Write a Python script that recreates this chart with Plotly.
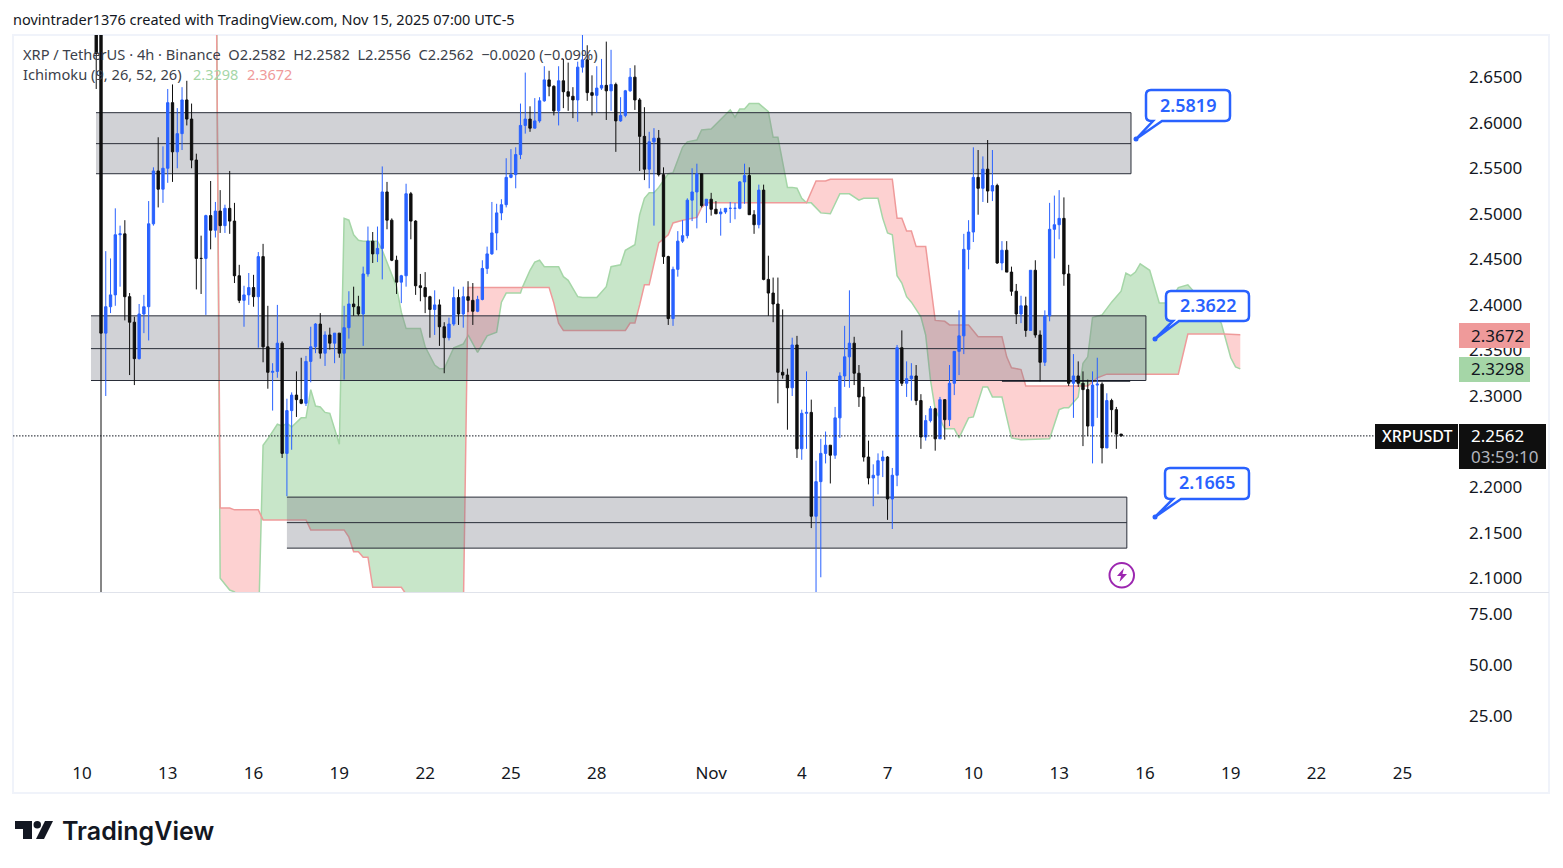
import plotly.graph_objects as go

W, H = 1563, 868
FONT = "Noto Sans"
BLUE = "#2962ff"
BLACK = "#0f0f0f"
BAND_LINE = "#2a2e39"

# 4h candles, bar -1 and bar 0 are the Oct 10 crash candles
closes = [
    2.676,
    2.369, 2.398, 2.411, 2.477, 2.478, 2.409, 2.381, 2.341, 2.390, 2.398,
    2.489, 2.547, 2.527, 2.550, 2.622, 2.568, 2.588, 2.625, 2.604, 2.559,
    2.451, 2.451, 2.498, 2.482, 2.503, 2.487, 2.506, 2.492, 2.432, 2.405,
    2.411, 2.419, 2.409, 2.453, 2.354, 2.326, 2.327, 2.358, 2.237, 2.284,
    2.301, 2.296, 2.292, 2.338, 2.354, 2.379, 2.347, 2.367, 2.358, 2.369,
    2.347, 2.375, 2.401, 2.398, 2.390, 2.434, 2.470, 2.456, 2.462, 2.524,
    2.493, 2.449, 2.425, 2.432, 2.522, 2.492, 2.421, 2.419, 2.409, 2.395,
    2.400, 2.376, 2.364, 2.379, 2.408, 2.390, 2.409, 2.405, 2.393, 2.406,
    2.440, 2.456, 2.479, 2.501, 2.510, 2.540, 2.543, 2.565, 2.597, 2.604,
    2.594, 2.602, 2.624, 2.647, 2.640, 2.613, 2.646, 2.634, 2.629, 2.625,
    2.661, 2.669, 2.633, 2.630, 2.638, 2.641, 2.635, 2.642, 2.602, 2.608,
    2.635, 2.650, 2.625, 2.585, 2.549, 2.579, 2.583, 2.543, 2.453, 2.385,
    2.439, 2.470, 2.476, 2.515, 2.524, 2.544, 2.509, 2.516, 2.505, 2.500,
    2.502, 2.506, 2.506, 2.506, 2.535, 2.542, 2.499, 2.488, 2.526, 2.428,
    2.413, 2.401, 2.326, 2.323, 2.309, 2.356, 2.242, 2.281, 2.282, 2.168,
    2.206, 2.237, 2.246, 2.235, 2.276, 2.322, 2.343, 2.358, 2.325, 2.299,
    2.233, 2.210, 2.213, 2.229, 2.233, 2.187, 2.213, 2.353, 2.314, 2.319,
    2.322, 2.295, 2.255, 2.273, 2.286, 2.253, 2.296, 2.274, 2.314, 2.349,
    2.366, 2.461, 2.480, 2.540, 2.528, 2.549, 2.525, 2.531, 2.446, 2.460,
    2.436, 2.415, 2.390, 2.399, 2.372, 2.438, 2.367, 2.337, 2.388, 2.483,
    2.488, 2.495, 2.434, 2.314, 2.322, 2.314, 2.307, 2.267, 2.312, 2.313,
    2.243, 2.295, 2.285, 2.2582, 2.2562,
]
highs = [
    2.780,
    2.850, 2.459, 2.451, 2.506, 2.487, 2.493, 2.413, 2.387, 2.401, 2.411,
    2.514, 2.551, 2.584, 2.574, 2.637, 2.642, 2.616, 2.639, 2.646, 2.621,
    2.566, 2.476, 2.499, 2.536, 2.513, 2.526, 2.510, 2.547, 2.512, 2.444,
    2.421, 2.435, 2.433, 2.458, 2.467, 2.399, 2.336, 2.400, 2.360, 2.297,
    2.304, 2.327, 2.342, 2.344, 2.376, 2.380, 2.391, 2.371, 2.375, 2.369,
    2.369, 2.399, 2.415, 2.420, 2.410, 2.442, 2.486, 2.480, 2.486, 2.552,
    2.535, 2.495, 2.454, 2.433, 2.533, 2.524, 2.493, 2.434, 2.436, 2.410,
    2.416, 2.406, 2.381, 2.386, 2.420, 2.417, 2.420, 2.426, 2.424, 2.410,
    2.449, 2.464, 2.513, 2.511, 2.516, 2.561, 2.571, 2.573, 2.621, 2.655,
    2.618, 2.627, 2.628, 2.662, 2.657, 2.641, 2.662, 2.670, 2.666, 2.639,
    2.667, 2.697, 2.685, 2.652, 2.662, 2.670, 2.689, 2.680, 2.644, 2.628,
    2.636, 2.660, 2.663, 2.627, 2.617, 2.590, 2.594, 2.592, 2.551, 2.454,
    2.442, 2.481, 2.493, 2.517, 2.550, 2.555, 2.544, 2.516, 2.523, 2.514,
    2.506, 2.506, 2.513, 2.512, 2.536, 2.555, 2.551, 2.504, 2.532, 2.532,
    2.454, 2.430, 2.430, 2.395, 2.330, 2.364, 2.366, 2.285, 2.327, 2.296,
    2.229, 2.253, 2.261, 2.246, 2.288, 2.326, 2.377, 2.416, 2.365, 2.334,
    2.310, 2.251, 2.225, 2.237, 2.240, 2.234, 2.221, 2.356, 2.372, 2.338,
    2.336, 2.334, 2.302, 2.279, 2.289, 2.287, 2.299, 2.296, 2.334, 2.349,
    2.394, 2.478, 2.493, 2.573, 2.570, 2.563, 2.581, 2.570, 2.533, 2.470,
    2.470, 2.442, 2.423, 2.410, 2.409, 2.438, 2.449, 2.372, 2.394, 2.512,
    2.520, 2.526, 2.518, 2.444, 2.346, 2.338, 2.327, 2.318, 2.327, 2.342,
    2.315, 2.303, 2.297, 2.288, 2.2582,
]
lows = [
    2.637,
    1.650, 2.300, 2.391, 2.399, 2.420, 2.383, 2.323, 2.312, 2.340, 2.369,
    2.361, 2.487, 2.507, 2.512, 2.534, 2.535, 2.550, 2.570, 2.597, 2.550,
    2.417, 2.412, 2.389, 2.461, 2.474, 2.479, 2.479, 2.478, 2.424, 2.402,
    2.376, 2.400, 2.398, 2.353, 2.337, 2.308, 2.284, 2.320, 2.232, 2.190,
    2.241, 2.277, 2.291, 2.289, 2.315, 2.347, 2.341, 2.333, 2.351, 2.336,
    2.342, 2.318, 2.363, 2.388, 2.388, 2.355, 2.431, 2.446, 2.447, 2.428,
    2.483, 2.448, 2.412, 2.402, 2.420, 2.472, 2.411, 2.404, 2.391, 2.364,
    2.367, 2.355, 2.325, 2.361, 2.377, 2.378, 2.375, 2.392, 2.378, 2.392,
    2.405, 2.434, 2.455, 2.460, 2.493, 2.507, 2.539, 2.528, 2.560, 2.588,
    2.590, 2.594, 2.600, 2.623, 2.629, 2.608, 2.597, 2.616, 2.613, 2.605,
    2.601, 2.655, 2.624, 2.608, 2.611, 2.636, 2.603, 2.613, 2.568, 2.601,
    2.606, 2.634, 2.614, 2.547, 2.537, 2.528, 2.487, 2.541, 2.445, 2.378,
    2.377, 2.431, 2.468, 2.473, 2.492, 2.484, 2.507, 2.490, 2.498, 2.500,
    2.476, 2.500, 2.490, 2.494, 2.505, 2.511, 2.499, 2.478, 2.484, 2.427,
    2.388, 2.381, 2.292, 2.319, 2.263, 2.300, 2.232, 2.230, 2.242, 2.155,
    2.080, 2.101, 2.226, 2.204, 2.231, 2.254, 2.310, 2.309, 2.312, 2.288,
    2.228, 2.203, 2.179, 2.192, 2.211, 2.164, 2.154, 2.201, 2.311, 2.299,
    2.295, 2.290, 2.242, 2.251, 2.271, 2.240, 2.253, 2.252, 2.267, 2.301,
    2.323, 2.346, 2.439, 2.469, 2.499, 2.513, 2.512, 2.514, 2.445, 2.438,
    2.436, 2.410, 2.379, 2.380, 2.365, 2.372, 2.364, 2.316, 2.333, 2.382,
    2.451, 2.472, 2.421, 2.311, 2.276, 2.310, 2.245, 2.256, 2.226, 2.276,
    2.226, 2.243, 2.260, 2.242, 2.2556,
]
first_opens = [2.770, 2.800]

# Ichimoku leading spans, read at the corners of each line
span_a_bars = [
    24, 25, 27, 28, 29, 33, 33.62, 34, 35, 37,
    38, 39, 40, 42, 43, 44, 45, 46, 47, 48,
    50, 51, 52, 53, 54, 55, 58, 59, 62, 63,
    64, 67, 68, 70, 71, 72, 74, 76, 76.84, 77,
    79, 81, 83, 84, 85, 88, 88.38, 89, 90, 91,
    92, 93, 96, 97, 98, 100, 101, 104, 106, 107,
    109, 110, 112, 113, 114, 115, 116, 117, 119, 120,
    122, 123, 125, 126, 128, 132, 133, 134, 135, 136,
    138, 140, 141, 142, 144, 145, 146, 147, 148, 149,
    151, 153, 155, 157, 159, 160, 163, 164, 165, 166,
    167, 168, 169, 170, 172, 173, 174, 175, 177, 179,
    180, 182, 183, 185, 186, 187, 189, 191, 193, 199,
    201, 202, 203, 205, 205.32, 206, 207, 208, 210, 212,
    214, 215, 216, 217, 218, 220, 222, 224, 226, 228,
    229, 235, 235.63, 237, 238, 239,
]
span_a = [
    2.950, 2.100, 2.087, 2.085, 2.078, 2.040, 2.168, 2.246, 2.253, 2.269,
    2.267, 2.270, 2.266, 2.276, 2.276, 2.307, 2.289, 2.288, 2.282, 2.281,
    2.247, 2.495, 2.493, 2.477, 2.471, 2.470, 2.470, 2.460, 2.420, 2.392,
    2.374, 2.374, 2.354, 2.334, 2.330, 2.330, 2.353, 2.357, 2.365, 2.367,
    2.348, 2.366, 2.370, 2.403, 2.413, 2.413, 2.419, 2.427, 2.438, 2.447,
    2.449, 2.442, 2.442, 2.431, 2.427, 2.409, 2.408, 2.408, 2.420, 2.442,
    2.444, 2.460, 2.466, 2.499, 2.517, 2.523, 2.523, 2.529, 2.544, 2.545,
    2.573, 2.579, 2.581, 2.592, 2.593, 2.614, 2.606, 2.615, 2.615, 2.621,
    2.621, 2.612, 2.584, 2.584, 2.529, 2.529, 2.528, 2.517, 2.512, 2.512,
    2.501, 2.500, 2.522, 2.522, 2.515, 2.517, 2.517, 2.495, 2.479, 2.477,
    2.432, 2.424, 2.409, 2.403, 2.387, 2.367, 2.318, 2.285, 2.264, 2.264,
    2.254, 2.276, 2.277, 2.310, 2.310, 2.299, 2.299, 2.254, 2.252, 2.253,
    2.285, 2.287, 2.287, 2.299, 2.311, 2.336, 2.343, 2.386, 2.389, 2.403,
    2.415, 2.435, 2.432, 2.436, 2.445, 2.438, 2.402, 2.402, 2.419, 2.422,
    2.416, 2.380, 2.368, 2.342, 2.332, 2.3298,
]
span_b_bars = [
    24, 25, 27, 28, 33, 33.62, 34, 43, 44, 51,
    52, 53, 54, 55, 56, 57, 63, 65, 76, 76.84, 77, 88.38,
    94, 95, 96, 97, 110, 111, 112, 113, 114, 115,
    117, 119, 120, 122, 125, 126, 127, 148, 150, 152,
    153, 166, 167, 168, 169, 170, 171, 173, 175, 177,
    178, 182, 184, 189, 190, 191, 193, 194, 205.32, 207,
    209, 211, 226, 228, 235.63, 239,
]
span_b = [
    2.890, 2.177, 2.177, 2.175, 2.175, 2.168, 2.164, 2.164, 2.153, 2.153,
    2.145, 2.129, 2.129, 2.123, 2.123, 2.090, 2.090, 2.075, 2.060, 2.360, 2.419, 2.419,
    2.419, 2.402, 2.380, 2.372, 2.372, 2.380, 2.380, 2.400, 2.422, 2.422,
    2.468, 2.477, 2.490, 2.493, 2.496, 2.507, 2.512, 2.512, 2.536, 2.536,
    2.538, 2.538, 2.495, 2.495, 2.481, 2.481, 2.464, 2.464, 2.383, 2.382,
    2.378, 2.378, 2.365, 2.365, 2.343, 2.331, 2.329, 2.311, 2.311, 2.311,
    2.320, 2.324, 2.324, 2.368, 2.368, 2.3672,
]
# bars where the two spans cross, and which one is on top in between
cloud_cross = [24, 33.62, 76.84, 88.38, 148, 205.32, 235.63, 239]
cloud_colors = ["#fdd1d1", "#c8e6c9", "#fdd1d1", "#c8e6c9", "#fdd1d1", "#c8e6c9", "#fdd1d1"]

# drawn zones: left bar, right bar, top, middle, bottom
zone_left = [-1.05, -2.1, 39.0]
zone_right = [216.07, 219.2, 215.2]
zone_top = [2.611, 2.388, 2.189]
zone_mid = [2.577, 2.352, 2.161]
zone_bottom = [2.544, 2.317, 2.133]

# 2.25 sits under the last price label in the reference, so it never shows
price_ticks = [2.10, 2.15, 2.20, 2.30, 2.35, 2.40, 2.45, 2.50, 2.55, 2.60, 2.65]
lower_ticks = [25, 50, 75]
date_tick_bars = [-4, 14, 32, 50, 68, 86, 104, 128, 147, 165, 183, 201, 219, 237, 255, 273]
date_tick_labels = ["10", "13", "16", "19", "22", "25", "28", "Nov", "4", "7", "10", "13", "16", "19", "22", "25"]

bars = list(range(-1, len(closes) - 1))
opens = first_opens + closes[1:-1]

PRICE_RANGE = [2.08485, 2.69627]
BAR_RANGE = [-18.46, 303.76]


def fx(x):
    return x / W


def fy(y):
    return 1 - y / H


def xy(x, y):
    return f"{fx(x):.5f},{fy(y):.5f}"


def callout_path(x0, y0, x1, y1, base0, base1, tip, r=5):
    return (
        f"M {xy(x0 + r, y0)} L {xy(x1 - r, y0)} Q {xy(x1, y0)} {xy(x1, y0 + r)} "
        f"L {xy(x1, y1 - r)} Q {xy(x1, y1)} {xy(x1 - r, y1)} "
        f"L {xy(base1, y1)} L {xy(tip[0], tip[1])} L {xy(base0, y1)} "
        f"L {xy(x0 + r, y1)} Q {xy(x0, y1)} {xy(x0, y1 - r)} "
        f"L {xy(x0, y0 + r)} Q {xy(x0, y0)} {xy(x0 + r, y0)} Z"
    )


def rect(x0, y0, x1, y1, color):
    return dict(type="rect", xref="paper", yref="paper", x0=fx(x0), x1=fx(x1), y0=fy(y0), y1=fy(y1),
                fillcolor=color, line_width=0, layer="above")


def label(x, y, text, size=14.5, color="#131722", anchor="left", weight=None, family=FONT):
    # annotation boxes carry about 2px of padding on the left
    if anchor == "left":
        x -= 2
    return dict(xref="paper", yref="paper", x=fx(x), y=fy(y), text=text, showarrow=False,
                xanchor=anchor, yanchor="middle",
                font=dict(family=family, size=size, color=color, weight=weight))


fig = go.Figure()

# cloud fill, one polygon per stretch between crossings
for i, color in enumerate(cloud_colors):
    lo, hi = cloud_cross[i], cloud_cross[i + 1]
    a_part = [(b, v) for b, v in zip(span_a_bars, span_a) if lo <= b <= hi]
    b_part = [(b, v) for b, v in zip(span_b_bars, span_b) if lo <= b <= hi][::-1]
    poly = a_part + b_part
    fig.add_trace(go.Scatter(x=[p[0] for p in poly], y=[p[1] for p in poly], mode="lines",
                             fill="toself", fillcolor=color, line=dict(width=0),
                             hoverinfo="skip", showlegend=False))

fig.add_trace(go.Scatter(x=span_a_bars, y=span_a, mode="lines", line=dict(color="#a5d6a7", width=1.5),
                         name="Leading Span A", showlegend=False))
fig.add_trace(go.Scatter(x=span_b_bars, y=span_b, mode="lines", line=dict(color="#ef9a9a", width=1.5),
                         name="Leading Span B", showlegend=False))

# grey zones sit over the cloud but under the candles
for left, right, top, mid, bottom in zip(zone_left, zone_right, zone_top, zone_mid, zone_bottom):
    fig.add_trace(go.Scatter(x=[left, right, right, left, left], y=[top, top, bottom, bottom, top],
                             mode="lines", fill="toself", fillcolor="rgba(120,123,134,0.34)",
                             line=dict(width=0), hoverinfo="skip", showlegend=False))
    fig.add_trace(go.Scatter(x=[left, right, right, left], y=[top, top, bottom, bottom], mode="lines",
                             line=dict(color=BAND_LINE, width=1), hoverinfo="skip", showlegend=False))
    fig.add_trace(go.Scatter(x=[left, right], y=[mid, mid], mode="lines",
                             line=dict(color=BAND_LINE, width=1), hoverinfo="skip", showlegend=False))

# support line drawn along the bottom of the middle zone
fig.add_trace(go.Scatter(x=[189, 215.9], y=[2.3165, 2.3165], mode="lines",
                         line=dict(color="#131722", width=1.5), hoverinfo="skip", showlegend=False))

fig.add_trace(go.Candlestick(
    x=bars, open=opens, high=highs, low=lows, close=closes,
    xaxis="x2", yaxis="y2", whiskerwidth=0,
    increasing=dict(line=dict(color=BLUE, width=1), fillcolor=BLUE),
    decreasing=dict(line=dict(color=BLACK, width=1), fillcolor=BLACK),
    showlegend=False,
))

# empty lower pane still needs a trace for its axis to be drawn
fig.add_trace(go.Scatter(x=[0], y=[50], yaxis="y3", mode="lines", hoverinfo="skip", showlegend=False))

shapes = [
    dict(type="rect", xref="paper", yref="paper", x0=fx(13), x1=fx(1549), y0=fy(35), y1=fy(793),
         line=dict(color="#f0f3fa", width=2), layer="below"),
    dict(type="line", xref="paper", yref="paper", x0=fx(13), x1=fx(1549), y0=fy(592.5), y1=fy(592.5),
         line=dict(color="#e0e3eb", width=1), layer="above"),
    dict(type="line", xref="paper", yref="y", x0=fx(13), x1=fx(1375), y0=closes[-1], y1=closes[-1],
         line=dict(color="#131722", width=1, dash="1.5px,1.5px"), layer="above"),
]

# price labels on the right, they cover the plain ticks
shapes += [
    rect(1459, 323, 1530, 348, "#ef9a9a"),
    rect(1459, 357, 1530, 382, "#a5d6a7"),
    rect(1459, 424, 1546, 469, "#0f0f0f"),
    rect(1375, 424, 1458, 449, "#0f0f0f"),
]

# value callouts
callouts = [
    ("2.5819", 1146, 90, 1230, 121, 1153, 1162, (1136, 139)),
    ("2.3622", 1166, 291, 1249, 321, 1173, 1179, (1155, 339)),
    ("2.1665", 1165, 468, 1249, 499, 1173, 1181, (1155, 517)),
]
annotations = []
for text, x0, y0, x1, y1, base0, base1, tip in callouts:
    shapes.append(dict(type="path", xref="paper", yref="paper", layer="above",
                       path=callout_path(x0, y0, x1, y1, base0, base1, tip),
                       fillcolor="white", line=dict(color=BLUE, width=2.5)))
    shapes.append(dict(type="circle", xref="paper", yref="paper", layer="above",
                       x0=fx(tip[0] - 2.5), x1=fx(tip[0] + 2.5), y0=fy(tip[1] - 2.5), y1=fy(tip[1] + 2.5),
                       fillcolor=BLUE, line=dict(color=BLUE, width=0)))
    annotations.append(label((x0 + x1) / 2, (y0 + y1) / 2 - 1, text, size=18, color=BLUE, anchor="center", weight=600))

# purple lightning badge
shapes.append(dict(type="circle", xref="paper", yref="paper", layer="above",
                   x0=fx(1109.5), x1=fx(1134), y0=fy(563), y1=fy(587.5),
                   fillcolor="white", line=dict(color="#9c27b0", width=2)))
bolt = [(1124, 568), (1117, 576), (1121, 576), (1119.5, 582), (1127, 574), (1122.5, 574)]
shapes.append(dict(type="path", xref="paper", yref="paper", layer="above",
                   path="M " + " L ".join(xy(px, py) for px, py in bolt) + " Z",
                   fillcolor="#9c27b0", line=dict(width=0)))

# TradingView mark
mark_t = [(15, 821), (32, 821), (32, 839), (23, 839), (23, 829), (15, 829)]
mark_slash = [(45, 821), (53, 821), (44, 839), (36, 839)]
for pts in (mark_t, mark_slash):
    shapes.append(dict(type="path", xref="paper", yref="paper", layer="above",
                       path="M " + " L ".join(xy(px, py) for px, py in pts) + " Z",
                       fillcolor="#131722", line=dict(width=0)))
shapes.append(dict(type="circle", xref="paper", yref="paper", layer="above",
                   x0=fx(33.5), x1=fx(41), y0=fy(821), y1=fy(828.5),
                   fillcolor="#131722", line=dict(width=0)))

annotations += [
    label(13, 19, "novintrader1376 created with TradingView.com, Nov 15, 2025 07:00 UTC-5"),
    label(23, 53.5, "XRP / TetherUS · 4h · Binance&nbsp;&nbsp;O2.2582&nbsp;&nbsp;H2.2582&nbsp;&nbsp;L2.2556&nbsp;&nbsp;"
                    "C2.2562&nbsp;&nbsp;−0.0020 (−0.09%)", size=14.65, color="#3c3f4a"),
    label(23, 74, "Ichimoku (9, 26, 52, 26)", size=14.65, color="#3c3f4a"),
    label(193, 74, "2.3298", color="#a5d6a7"),
    label(247, 74, "2.3672", color="#ef9a9a"),
    label(1471, 335, "2.3672", size=17),
    label(1471, 368.5, "2.3298", size=17),
    label(1471, 435.5, "2.2562", size=17, color="white"),
    label(1471, 456.5, "03:59:10", size=17, color="#b2b5be"),
    label(1416.5, 436, "XRPUSDT", size=16, color="white", anchor="center", weight=500),
    label(62, 831, "TradingView", size=25, weight=600, family="Inter"),
]

tick_font = dict(family=FONT, size=17, color="#131722")
top_pane = [fy(592), fy(35)]
fig.update_layout(
    width=W, height=H,
    margin=dict(l=0, r=0, t=0, b=0),
    paper_bgcolor="white", plot_bgcolor="white",
    showlegend=False,
    shapes=shapes, annotations=annotations,
    xaxis=dict(domain=[fx(13), fx(1549)], range=BAR_RANGE, anchor="free", position=fy(761),
               tickmode="array", tickvals=date_tick_bars, ticktext=date_tick_labels,
               showgrid=False, zeroline=False, showline=False, ticks="", tickfont=tick_font,
               rangeslider=dict(visible=False)),
    xaxis2=dict(overlaying="x", range=BAR_RANGE, anchor="y2", visible=False,
                rangeslider=dict(visible=False)),
    yaxis=dict(domain=top_pane, range=PRICE_RANGE, anchor="free", position=fx(1468), side="right",
               tickmode="array", tickvals=price_ticks, ticktext=[f"{v:.4f}" for v in price_ticks],
               showgrid=False, zeroline=False, showline=False, ticks="", tickfont=tick_font),
    yaxis2=dict(overlaying="y", range=PRICE_RANGE, anchor="x2", visible=False),
    yaxis3=dict(domain=[fy(793), fy(593)], range=[-12.7, 85.3], anchor="free", position=fx(1468), side="right",
                tickmode="array", tickvals=lower_ticks, ticktext=[f"{v:.2f}" for v in lower_ticks],
                showgrid=False, zeroline=False, showline=False, ticks="", tickfont=tick_font),
)

fig.write_html("out.html", config={"displayModeBar": False},
               post_script="document.body.style.margin='0';document.body.style.overflow='hidden';")
